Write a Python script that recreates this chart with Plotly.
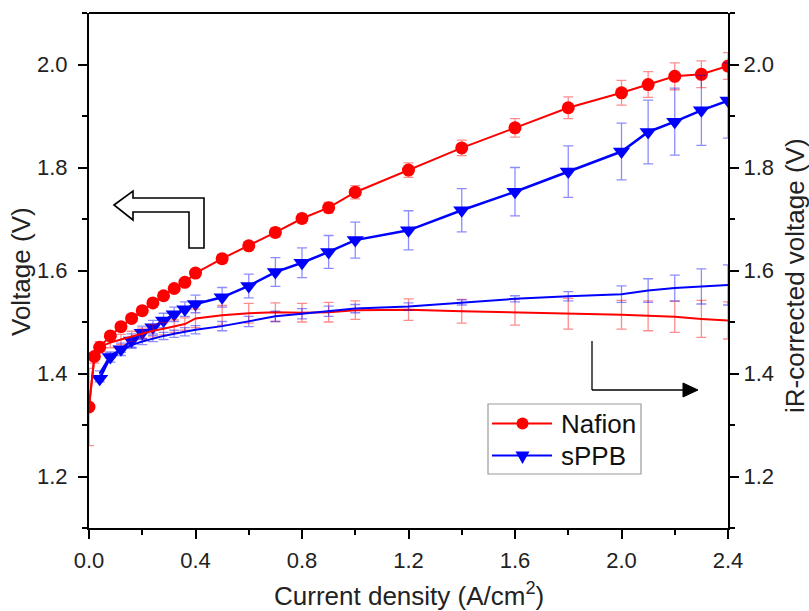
import plotly.graph_objects as go

# ---------------- data ----------------
nafion_x = [0, 0.02, 0.04, 0.08, 0.12, 0.16, 0.2, 0.24, 0.28, 0.32, 0.36, 0.4, 0.5, 0.6, 0.7,
            0.8, 0.9, 1.0, 1.2, 1.4, 1.6, 1.8, 2.0, 2.1, 2.2, 2.3, 2.4]
nafion_v = [1.335, 1.433, 1.451, 1.473, 1.491, 1.507, 1.522, 1.537, 1.551, 1.565, 1.577, 1.595,
            1.623, 1.648, 1.674, 1.701, 1.722, 1.752, 1.795, 1.838, 1.877, 1.916, 1.945, 1.961,
            1.977, 1.981, 1.997]
nafion_err = [0.0, 0.005, 0.005, 0.005, 0.005, 0.005, 0.005, 0.006, 0.006, 0.006, 0.007, 0.007,
              0.008, 0.008, 0.009, 0.009, 0.01, 0.013, 0.014, 0.015, 0.018, 0.021, 0.024, 0.025,
              0.026, 0.026, 0.026]
nafion_ir = [1.335, 1.43, 1.452, 1.46, 1.466, 1.472, 1.478, 1.483, 1.487, 1.492, 1.496, 1.507,
             1.513, 1.517, 1.519, 1.518, 1.519, 1.523, 1.524, 1.521, 1.519, 1.516, 1.514, 1.512,
             1.51, 1.506, 1.503]
nafion_ir_err = [0.075, 0.01, 0.01, 0.01, 0.01, 0.01, 0.01, 0.012, 0.012, 0.012, 0.012, 0.018,
                 0.019, 0.019, 0.018, 0.018, 0.019, 0.018, 0.021, 0.023, 0.025, 0.03, 0.028,
                 0.029, 0.03, 0.036, 0.036]

sppb_x = [0.04, 0.08, 0.12, 0.16, 0.2, 0.24, 0.28, 0.32, 0.36, 0.4, 0.5, 0.6, 0.7, 0.8, 0.9,
          1.0, 1.2, 1.4, 1.6, 1.8, 2.0, 2.1, 2.2, 2.3, 2.4]
sppb_v = [1.39, 1.432, 1.447, 1.464, 1.479, 1.49, 1.503, 1.515, 1.525, 1.535, 1.548, 1.570,
          1.597, 1.615, 1.636, 1.659, 1.678, 1.717, 1.753, 1.792, 1.831, 1.869, 1.889, 1.911,
          1.930]
sppb_err = [0.006, 0.01, 0.012, 0.013, 0.013, 0.013, 0.014, 0.014, 0.014, 0.017, 0.019, 0.023,
            0.028, 0.029, 0.032, 0.035, 0.038, 0.042, 0.047, 0.05, 0.055, 0.062, 0.065, 0.068,
            0.073]
sppb_ir = [1.40, 1.435, 1.446, 1.455, 1.462, 1.468, 1.473, 1.477, 1.481, 1.485, 1.492, 1.501,
           1.511, 1.516, 1.521, 1.526, 1.530, 1.538, 1.545, 1.550, 1.554, 1.561, 1.566, 1.569,
           1.572]
sppb_ir_err = [0.005, 0.005, 0.005, 0.006, 0.006, 0.006, 0.007, 0.007, 0.008, 0.008, 0.009,
               0.01, 0.01, 0.01, 0.01, 0.008, 0.007, 0.005, 0.006, 0.009, 0.016, 0.023, 0.025,
               0.034, 0.039]

x_ticks = [0.0, 0.4, 0.8, 1.2, 1.6, 2.0, 2.4]
y_ticks = [1.2, 1.4, 1.6, 1.8, 2.0]
legend_names = ["Nafion", "sPPB"]
x_title = "Current density (A/cm<sup>2</sup>)"
y_title = "Voltage (V)"
y2_title = "iR-corrected voltage (V)"

RED = "#FF0000"
BLUE = "#0000FF"
RED_EB = "rgba(255,0,0,0.45)"
BLUE_EB = "rgba(0,0,255,0.45)"
FONT = "Liberation Sans, Arial, sans-serif"
TXT = "#222222"

W, H = 809, 611
L, R, T, B = 89, 81, 13, 83


def px(xp, yp):
    """pixel -> paper coordinates (for decorations only)"""
    return (xp - L) / (W - L - R), (H - B - yp) / (H - T - B)


def path_from(points):
    pts = [px(a, b) for a, b in points]
    return "M " + " L ".join(f"{a:.5f},{b:.5f}" for a, b in pts) + " Z"


fig = go.Figure()

# iR-corrected curves (right axis)
fig.add_trace(go.Scatter(
    x=nafion_x, y=nafion_ir, yaxis="y2", mode="lines", showlegend=False,
    line=dict(color=RED, width=2),
    error_y=dict(type="data", array=nafion_ir_err, color=RED_EB, thickness=1.3, width=5)))
fig.add_trace(go.Scatter(
    x=sppb_x, y=sppb_ir, yaxis="y2", mode="lines", showlegend=False,
    line=dict(color=BLUE, width=2),
    error_y=dict(type="data", array=sppb_ir_err, color=BLUE_EB, thickness=1.3, width=5)))

# polarization curves (left axis)
fig.add_trace(go.Scatter(
    x=nafion_x, y=nafion_v, mode="lines+markers", name=legend_names[0], showlegend=False,
    line=dict(color=RED, width=2),
    marker=dict(symbol="circle", size=13, color=RED),
    error_y=dict(type="data", array=nafion_err, color=RED_EB, thickness=1.3, width=5)))
fig.add_trace(go.Scatter(
    x=sppb_x, y=sppb_v, mode="lines+markers", name=legend_names[1], showlegend=False,
    line=dict(color=BLUE, width=2.5),
    marker=dict(symbol="triangle-down", size=15, color=BLUE),
    error_y=dict(type="data", array=sppb_err, color=BLUE_EB, thickness=1.3, width=5)))

# ---------------- decorations ----------------
shapes = []
# hollow "left" arrow
shapes.append(dict(type="path", xref="paper", yref="paper",
                   path=path_from([(114, 205), (133, 191), (133, 198), (204, 198), (204, 248),
                                   (189, 248), (189, 212), (133, 212), (133, 220)]),
                   line=dict(color="black", width=1.6), fillcolor="white"))
# bent "right" arrow
x0, y0 = px(592, 341)
x1, y1 = px(592, 390)
x2, _ = px(684, 390)
shapes.append(dict(type="line", xref="paper", yref="paper", x0=x0, y0=y0, x1=x1, y1=y1,
                   line=dict(color="black", width=1.3)))
shapes.append(dict(type="line", xref="paper", yref="paper", x0=x1, y0=y1, x1=x2, y1=y1,
                   line=dict(color="black", width=1.3)))
shapes.append(dict(type="path", xref="paper", yref="paper",
                   path=path_from([(683, 383), (698, 390), (683, 397)]),
                   line=dict(color="black", width=1), fillcolor="black"))

# custom legend (box, line samples, symbols)
bx0, by0 = px(488, 404)
bx1, by1 = px(641, 474)
shapes.append(dict(type="rect", xref="paper", yref="paper", x0=bx0, y0=by0, x1=bx1, y1=by1,
                   line=dict(color="#9a9a9a", width=1.2), fillcolor="white", layer="above"))
rows = [(423.5, RED), (455.5, BLUE)]
for (ry, col) in rows:
    a, yy = px(492, ry)
    b, _ = px(552, ry)
    shapes.append(dict(type="line", xref="paper", yref="paper", x0=a, x1=b, y0=yy, y1=yy,
                       line=dict(color=col, width=2), layer="above"))
c0 = px(516.5, 417.5)
c1 = px(528.5, 429.5)
shapes.append(dict(type="circle", xref="paper", yref="paper", x0=c0[0], y0=c0[1], x1=c1[0],
                   y1=c1[1], line=dict(color=RED, width=0), fillcolor=RED, layer="above"))
shapes.append(dict(type="path", xref="paper", yref="paper",
                   path=path_from([(515.5, 451.5), (529.5, 451.5), (522.5, 464)]),
                   line=dict(color=BLUE, width=0), fillcolor=BLUE, layer="above"))

annotations = []
for name, (ry, _) in zip(legend_names, rows):
    ax, ay = px(559, ry)
    annotations.append(dict(text=name, x=ax, y=ay, xref="paper", yref="paper",
                            xanchor="left", yanchor="middle", showarrow=False,
                            font=dict(family=FONT, size=26, color="#111111")))

# axis titles as annotations
tfont = dict(family=FONT, size=26, color=TXT)
ax_, ay_ = px(409, 576)
annotations.append(dict(text=x_title, x=ax_, y=ay_, xref="paper", yref="paper",
                        xanchor="center", yanchor="top", showarrow=False, font=tfont))
ax_, ay_ = px(21, 272)
annotations.append(dict(text=y_title, x=ax_, y=ay_, xref="paper", yref="paper",
                        xanchor="center", yanchor="middle", showarrow=False, font=tfont,
                        textangle=-90))
ax_, ay_ = px(795, 276)
annotations.append(dict(text=y2_title, x=ax_, y=ay_, xref="paper", yref="paper",
                        xanchor="center", yanchor="middle", showarrow=False, font=tfont,
                        textangle=-90))

axis_common = dict(
    showline=True, linecolor="black", linewidth=2,
    ticks="outside", ticklen=9, tickwidth=2, tickcolor="black",
    tickfont=dict(family=FONT, size=22, color=TXT),
    showgrid=False, zeroline=False, automargin=False,
)
minor_common = dict(ticks="outside", ticklen=5, tickwidth=2, tickcolor="black")

fig.update_layout(
    width=W, height=H,
    margin=dict(l=L, r=R, t=T, b=B),
    paper_bgcolor="white", plot_bgcolor="white",
    font=dict(family=FONT, color=TXT),
    shapes=shapes, annotations=annotations, showlegend=False,
    xaxis=dict(
        **axis_common, range=[0, 2.4], tickvals=x_ticks,
        ticktext=[f"{v:.1f}" for v in x_ticks], ticklabelstandoff=3,
        minor=dict(**minor_common, dtick=0.2, tick0=0),
    ),
    yaxis=dict(
        **axis_common, range=[1.1, 2.1], tickvals=y_ticks,
        ticktext=[f"{v:.1f}" for v in y_ticks], ticklabelstandoff=6,
        minor=dict(**minor_common, dtick=0.1, tick0=1.1),
    ),
    yaxis2=dict(
        **axis_common, range=[1.1, 2.1], tickvals=y_ticks,
        ticktext=[f"{v:.1f}" for v in y_ticks], overlaying="y", side="right",
        minor=dict(**minor_common, dtick=0.1, tick0=1.1),
    ),
)

# top frame line
fig.add_shape(type="line", xref="paper", yref="paper", x0=0, x1=1, y0=1, y1=1,
              line=dict(color="black", width=2))

fig.write_html("out.html")
